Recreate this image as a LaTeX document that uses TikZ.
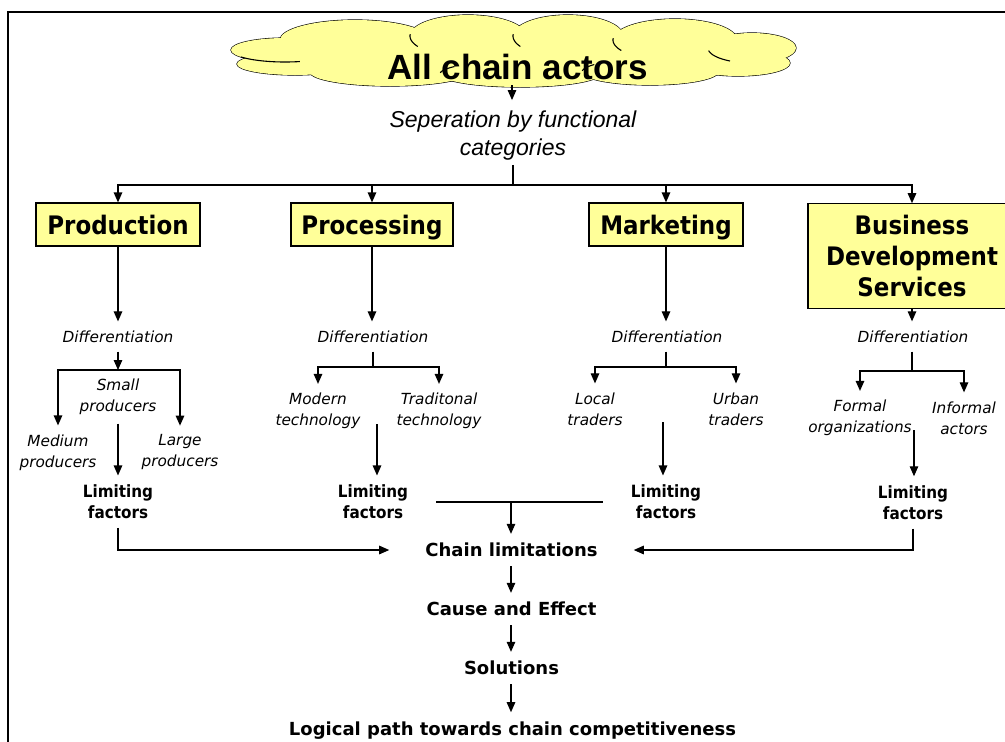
\documentclass[tikz,border=0pt]{standalone}
\usepackage{fontspec}
\setmainfont{DejaVu Sans}[ItalicFont={DejaVu Sans Oblique},BoldFont={DejaVu Sans Bold}]
\newfontfamily\narrowbold{DejaVu Sans Bold}[FakeStretch=0.9]
\newfontfamily\arialfont{Liberation Sans}
\usetikzlibrary{arrows.meta}
\definecolor{boxyellow}{RGB}{255,255,153}

\tikzset{
  conn/.style={line width=1.2pt, draw=black},
  arr/.style={conn, -{Triangle[length=10pt,width=8.5pt]}},
  catbox/.style={draw=black, line width=1.2pt, fill=boxyellow, align=center,
    font=\narrowbold\fontsize{25.5}{31}\selectfont, inner sep=0pt},
  lbl/.style={align=center, font=\itshape\fontsize{15.3}{21}\selectfont,
    inner xsep=2pt, inner ysep=9pt},
  limf/.style={align=center, font=\narrowbold\fontsize{16.9}{21}\selectfont,
    inner xsep=2pt, inner ysep=9pt},
  stage/.style={font=\bfseries\fontsize{18}{22}\selectfont,
    inner xsep=3pt, inner ysep=9pt},
  puffline/.style={line width=1.1pt, smooth, variable=\t}
}

\begin{document}
\begin{tikzpicture}[x=1pt,y=-1pt]
\useasboundingbox (0,0) rectangle (1005,742);

% page frame
\draw[line width=2pt] (8,746) -- (8,12) -- (1010,12);

% cloud: outlined puffs, then refilled so only the outer edge stays
\def\cloudpuffs{355/40/75/20, 468/36/58/21, 568/36/55/21, 675/40/62/21,
    752/48/44/15, 738/63/52/13, 650/72/68/13, 520/74/80/13, 390/72/80/14,
    285/50/54/12, 295/64/58/11, 512/52/200/22}
\foreach \cx/\cy/\rx/\ry in \cloudpuffs
  \draw[line width=1.2pt, fill=boxyellow] (\cx,\cy) ellipse [x radius=\rx, y radius=\ry];
\foreach \cx/\cy/\rx/\ry in \cloudpuffs
  \fill[boxyellow] (\cx,\cy) ellipse [x radius=\rx, y radius=\ry];
% short inner strokes where the puffs overlap
\draw[puffline, domain=150:185] plot ({468+58*cos(\t)}, {36+21*sin(\t)});
\draw[puffline, domain=150:185] plot ({568+55*cos(\t)}, {36+21*sin(\t)});
\draw[puffline, domain=150:185] plot ({675+62*cos(\t)}, {40+21*sin(\t)});
\draw[puffline, domain=120:170] plot ({752+44*cos(\t)}, {48+15*sin(\t)});
\draw[puffline, domain=74:145] plot ({285+54*cos(\t)}, {50+12*sin(\t)});
\draw[puffline, domain=185:215] plot ({520+80*cos(\t)}, {74+13*sin(\t)});
\draw[puffline, domain=185:215] plot ({650+68*cos(\t)}, {72+13*sin(\t)});
\node[minimum width=560pt, minimum height=70pt, inner sep=0pt] (cloud) at (512,50) {};
\node[font=\arialfont\bfseries\fontsize{35}{40}\selectfont, inner sep=0pt] (actors) at (517.5,67.3) {All chain actors};

% separation into functional categories
\node[font=\arialfont\itshape\fontsize{23}{28}\selectfont, align=center, inner sep=4pt] (sep) at (513,136)
  {Seperation by functional\\categories};
\draw[arr, shorten >=7pt] (cloud.south) -- (cloud.south |- sep.north);
\coordinate (split) at (513,185);
\draw[conn] (sep.south) -- (split);

\node[catbox, minimum width=164pt, minimum height=43pt, text depth=0pt] (prod) at (118,224.5) {Production};
\node[catbox, minimum width=162pt, minimum height=43pt, text depth=0pt] (proc) at (372,224.5) {Processing};
\node[catbox, minimum width=154pt, minimum height=43pt, text depth=0pt] (mark) at (666,224.5) {Marketing};
\node[catbox, minimum width=208pt, minimum height=105pt] (bds) at (912,256.3) {Business\\Development\\Services};

\draw[arr] (split) -| (prod.north);
\draw[arr] (split) -| (proc.north);
\draw[arr] (split) -| (mark.north);
\draw[arr] (split) -| (bds.north);

% production branch
\node[lbl] (d1) at (118,336.5) {Differentiation};
\draw[arr] (prod.south) -- (d1.north);
\coordinate (j1) at (118,370);
\draw[arr] (d1.south) -- (j1);
\node[lbl] (small) at (118,396.5) {Small\\producers};
\node[lbl] (medium) at (58,452.5) {Medium\\producers};
\node[lbl] (large) at (180,452.5) {Large\\producers};
\draw[arr] (j1) -| (medium.north);
\draw[arr] (j1) -| (large.north);
\node[limf] (lf1) at (118,501.7) {Limiting\\factors};
\draw[arr] (small.south) -- (lf1.north);

% processing branch
\node[lbl] (d2) at (373,336.5) {Differentiation};
\draw[arr] (proc.south) -- (proc.south |- d2.north);
\coordinate (j2) at (373,367);
\draw[conn] (d2.south) -- (j2);
\node[lbl] (modern) at (318,411) {Modern\\technology};
\node[lbl] (trad) at (439,411) {Traditonal\\technology};
\draw[arr] (j2) -| (modern.north);
\draw[arr] (j2) -| (trad.north);
\node[limf] (lf2) at (373,501.7) {Limiting\\factors};
\coordinate (p2) at (377,424);
\draw[arr] (p2) -- (p2 |- lf2.north);

% marketing branch
\node[lbl] (d3) at (667,336.5) {Differentiation};
\draw[arr] (mark.south) -- (mark.south |- d3.north);
\coordinate (j3) at (666,367);
\draw[conn] (d3.south -| j3) -- (j3);
\node[lbl] (local) at (595,409) {Local\\traders};
\node[lbl] (urban) at (736,409) {Urban\\traders};
\draw[arr] (j3) -| (local.north);
\draw[arr] (j3) -| (urban.north);
\node[limf] (lf3) at (666,501.7) {Limiting\\factors};
\coordinate (p3) at (663,422);
\draw[arr] (p3) -- (p3 |- lf3.north);

% business development services branch
\node[lbl] (d4) at (913,336.5) {Differentiation};
\draw[arr] (bds.south) -- (bds.south |- d4.north);
\coordinate (j4) at (912,371);
\draw[conn] (d4.south -| j4) -- (j4);
\node[lbl] (formal) at (860,418) {Formal\\organizations};
\node[lbl] (informal) at (964,418) {Informal\\actors};
\draw[arr] (j4) -| (formal.north);
\draw[arr] (j4) -| (informal.north);
\node[limf] (lf4) at (913,502.5) {Limiting\\factors};
\coordinate (p4) at (914,430);
\draw[arr] (p4) -- (p4 |- lf4.north);

% common path
\node[stage, inner xsep=36pt] (chain) at (511.5,550) {Chain limitations};
\node[stage] (cause) at (511.5,609) {Cause and Effect};
\node[stage] (sol) at (511.5,668) {Solutions};
\node[stage] (logic) at (512.5,730.2) {Logical path towards chain competitiveness};

\coordinate (pmL) at (436,502);
\coordinate (pmR) at (603,502);
\coordinate (pm) at (511,502);
\draw[conn] (pmL) -- (pmR);
\draw[arr] (pm) -- (pm |- chain.north);
\draw[arr] (lf1.south) |- (chain.west);
\draw[arr] (lf4.south) |- (chain.east);
\draw[arr] (chain.south -| pm) -- (pm |- cause.north);
\draw[arr] (cause.south -| pm) -- (pm |- sol.north);
\draw[arr] (sol.south -| pm) -- (pm |- logic.north);
\end{tikzpicture}
\end{document}
